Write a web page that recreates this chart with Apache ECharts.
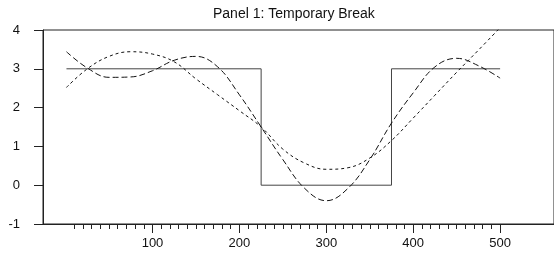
<!DOCTYPE html>
<html>
  <head>
    <meta charset="utf-8" />
    <title>Panel 1</title>
    <script src="https://cdn.jsdelivr.net/npm/echarts@6/dist/echarts.min.js"></script>
    <style>
      html, body { margin: 0; padding: 0; background: #fff; }
    </style>
  </head>
  <body>
    <div id="main" style="width: 554px;height:256px;"></div>
    <script type="text/javascript">
        // step series (the true break)
        var stepX = [1, 225, 225, 375, 375, 500];
        var stepY = [3, 3, 0, 0, 3, 3];

        // fitted curves, read every 25 units
        var curveX = [1, 25, 50, 75, 100, 125, 150, 175, 200, 225, 250, 275, 300, 325, 350, 375, 400, 425, 450, 475, 500];
        var longDash = [3.44, 3.02, 2.78, 2.79, 2.95, 3.22, 3.32, 3.05, 2.33, 1.50, 0.66, -0.08, -0.40, -0.08, 0.66, 1.60, 2.38, 3.05, 3.27, 3.08, 2.76];
        var shortDash = [2.52, 3.00, 3.32, 3.44, 3.38, 3.18, 2.74, 2.33, 1.92, 1.50, 0.93, 0.57, 0.41, 0.45, 0.70, 1.15, 1.73, 2.32, 2.91, 3.48, 4.06];

        var xLabels = [100, 200, 300, 400, 500];
        var minorTicks = [];
        for (var t = 10; t <= 500; t += 10) minorTicks.push(t);

        function pairs(xs, ys) {
            var out = [];
            for (var i = 0; i < xs.length; i++) out.push([xs[i], ys[i]]);
            return out;
        }

        var font = 'Liberation Sans, Arial, sans-serif';
        var xMin = -26, xMax = 562;

        var myChart = echarts.init(document.getElementById('main'));
        var option = {
            animation: false,
            title: {
                text: 'Panel 1: Temporary Break',
                left: 208,
                top: 2,
                textStyle: { fontFamily: font, fontSize: 14, fontWeight: 'normal', color: '#111' }
            },
            // frame: left, top, bottom drawn by grid border, right edge pushed off canvas
            grid: { left: 43, right: -2, top: 30, bottom: 32, show: true, borderColor: '#222', borderWidth: 1 },
            xAxis: [{
                type: 'value', min: xMin, max: xMax, position: 'bottom',
                axisLine: { onZero: false, lineStyle: { color: '#222', width: 1 } },
                axisTick: { show: true, length: 5, customValues: minorTicks, lineStyle: { color: '#222' } },
                axisLabel: { show: false },
                splitLine: { show: false }
            }, {
                type: 'value', min: xMin, max: xMax, position: 'bottom',
                axisLine: { show: false, onZero: false },
                axisTick: { show: true, length: 9, customValues: xLabels, lineStyle: { color: '#222' } },
                axisLabel: { show: true, customValues: xLabels, margin: 13, fontFamily: font, fontSize: 13, color: '#111' },
                splitLine: { show: false }
            }],
            yAxis: {
                type: 'value', min: -1, max: 4, interval: 1,
                axisLine: { show: true, onZero: false, lineStyle: { color: '#222', width: 1 } },
                axisTick: { show: true, length: 9, lineStyle: { color: '#222' } },
                axisLabel: { margin: 23, fontFamily: font, fontSize: 13, color: '#111' },
                splitLine: { show: false }
            },
            series: [{
                type: 'line',
                data: pairs(stepX, stepY),
                showSymbol: false,
                lineStyle: { color: '#444', width: 1 }
            }, {
                type: 'line',
                data: pairs(curveX, longDash),
                smooth: 0.4,
                showSymbol: false,
                lineStyle: { color: '#111', width: 1, type: [6, 3] }
            }, {
                type: 'line',
                data: pairs(curveX, shortDash),
                smooth: 0.4,
                showSymbol: false,
                clip: true,
                lineStyle: { color: '#111', width: 1, type: [3, 3] }
            }]
        };
        myChart.setOption(option);
    </script>
  </body>
</html>
